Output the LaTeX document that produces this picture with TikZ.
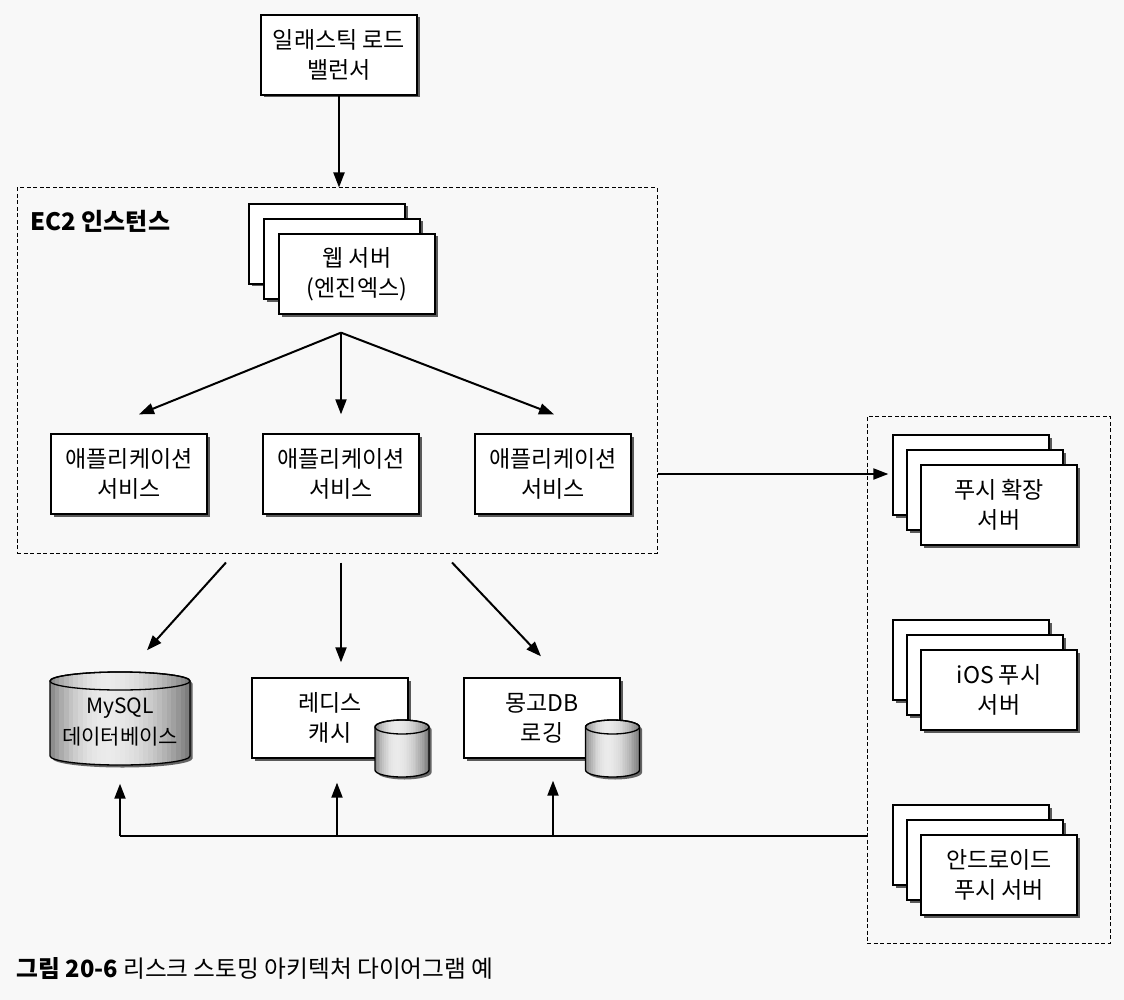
\documentclass[tikz,border=0pt]{standalone}
\usepackage{fontspec}
\setmainfont{Noto Sans CJK KR}
\usetikzlibrary{arrows.meta, positioning, shadows, calc}
\definecolor{paper}{RGB}{248,248,248}
\tikzstyle{server} = [rectangle, minimum width=156, minimum height=80, text centered, align=center, draw=black, line width=1.3pt, fill=white, font=\fontsize{23}{30}\selectfont, drop shadow={shadow xshift=2.5pt, shadow yshift=-2.5pt, opacity=0.75, fill=black!85}]
\tikzstyle{dblabel} = [rectangle, minimum width=140, minimum height=93, text centered, align=center, inner sep=0pt, font=\fontsize{21}{31}\selectfont]
\tikzstyle{group} = [rectangle, draw=black, line width=1pt, dash pattern=on 4pt off 2.5pt]
\tikzstyle{arrow} = [line width=2pt, ->, >={Triangle[length=15pt, width=11pt]}]
\tikzstyle{line} = [line width=2pt]

\begin{document}
\begin{tikzpicture}[x=1pt, y=-1pt, node distance=212pt]

\fill [paper] (0,0) rectangle (1124,1000);
\useasboundingbox (0,0) rectangle (1124,1000);

\node (lb) [server] at (339,55) {일래스틱 로드\\밸런서};

\node (ec2) [group, minimum width=640, minimum height=365] at (337,370.5) {};
\node (ec2label) [anchor=west, font=\fontsize{24}{26}\selectfont\bfseries] at (27,221) {EC2 인스턴스};
\node (web3) [server] at (327,244) {};
\node (web2) [server] at ($(web3)+(15,15)$) {};
\node (web) [server] at ($(web2)+(15,15)$) {웹 서버\\(엔진엑스)};
\node (app1) [server] at (129,474) {애플리케이션\\서비스};
\node (app2) [server, right of=app1] {애플리케이션\\서비스};
\node (app3) [server, right of=app2] {애플리케이션\\서비스};

\node (redis) [server] at (330,718) {레디스\\캐시};
\node (mongo) [server, right of=redis] {몽고DB\\로깅};

% cylinders: centre x / centre y / half width / half height / end radius
\foreach \cx/\cy/\a/\h/\e in {120/718.5/70/46.5/9, 402/748.5/27/28.5/7, 612.5/748.5/27/28.5/7} {
  \fill [black!85, opacity=0.7] ({\cx-\a+2.5},{\cy-\h+\e+2.5}) -- ++(0,{2*\h-2*\e}) arc[start angle=180, end angle=0, x radius=\a, y radius=\e] -- ++(0,{2*\e-2*\h}) arc[start angle=0, end angle=-180, x radius=\a, y radius=\e] -- cycle;
  \begin{scope}
    \clip ({\cx-\a},{\cy-\h+\e}) -- ++(0,{2*\h-2*\e}) arc[start angle=180, end angle=0, x radius=\a, y radius=\e] -- ++(0,{2*\e-2*\h}) arc[start angle=0, end angle=-180, x radius=\a, y radius=\e] -- cycle;
    \foreach \i [evaluate=\i as \t using (\i+0.5)/30, evaluate=\i as \p using {\t<0.4 ? 8+40*((0.4-\t)/0.4)^2 : 8+45*((\t-0.4)/0.6)^2}] in {0,...,29}
      \fill [black!\p] ({\cx-\a+2*\a*\i/30},{\cy-\h-1}) rectangle ({\cx-\a+2*\a*(\i+1)/30+0.4},{\cy+\h+1});
  \end{scope}
  \draw [line width=1.3pt] ({\cx-\a},{\cy-\h+\e}) -- ++(0,{2*\h-2*\e}) arc[start angle=180, end angle=0, x radius=\a, y radius=\e] -- ++(0,{2*\e-2*\h}) arc[start angle=0, end angle=-180, x radius=\a, y radius=\e] -- cycle;
  \draw [line width=1.3pt] (\cx,{\cy-\h+\e}) ellipse [x radius=\a, y radius=\e];
}
\node (mysql) [dblabel] at (120,722) {MySQL\\데이터베이스};

\node (pushgrp) [group, minimum width=243, minimum height=527] at (988.5,679.5) {};
\node (push3) [server] at (971,475) {};
\node (push2) [server] at ($(push3)+(14,15)$) {};
\node (push) [server] at ($(push2)+(14,15)$) {푸시 확장\\서버};
\node (ios3) [server, below of=push3, yshift=27pt] {};
\node (ios2) [server] at ($(ios3)+(14,15)$) {};
\node (ios) [server] at ($(ios2)+(14,15)$) {iOS 푸시\\서버};
\node (android3) [server, below of=ios3, yshift=27pt] {};
\node (android2) [server] at ($(android3)+(14,15)$) {};
\node (android) [server] at ($(android2)+(14,15)$) {안드로이드\\푸시 서버};

\node (caption) [anchor=west, font=\fontsize{23.7}{26}\selectfont] at (13,969) {\textbf{그림 20-6} 리스크 스토밍 아키텍처 다이어그램 예};

\coordinate (fan) at ($(web.south)+(-16,18)$);
\coordinate (bus) at (867,836);

\draw [arrow] (lb) -- (lb |- ec2.north);
\draw [arrow] (fan) -- ($(app1.north)+(10,-19)$);
\draw [arrow] (fan) -- ($(app2.north)+(0,-19)$);
\draw [arrow] (fan) -- ($(app3.north)+(1,-19)$);
\draw [arrow, shorten >=4pt] (app3 -| ec2.east) -- (app3 -| push3.west);
\draw [arrow] ($(ec2.south)+(-111,9)$) -- ($(mysql.north)+(27,-25)$);
\draw [arrow] ($(app2 |- ec2.south)+(0,9)$) -- ($(app2 |- redis.north)+(0,-15)$);
\draw [arrow] ($(ec2.south)+(115,9)$) -- ($(mongo.north)+(-1,-21)$);
\draw [line] (bus) -- (bus -| mysql);
\draw [arrow] (bus -| mysql) -- ($(mysql.south)+(0,15)$);
\draw [arrow] ($(bus -| redis)+(7,0)$) -- ($(redis.south)+(7,24)$);
\draw [arrow] (bus -| app3) -- ($(app3 |- mongo.south)+(0,22)$);

\end{tikzpicture}
\end{document}
